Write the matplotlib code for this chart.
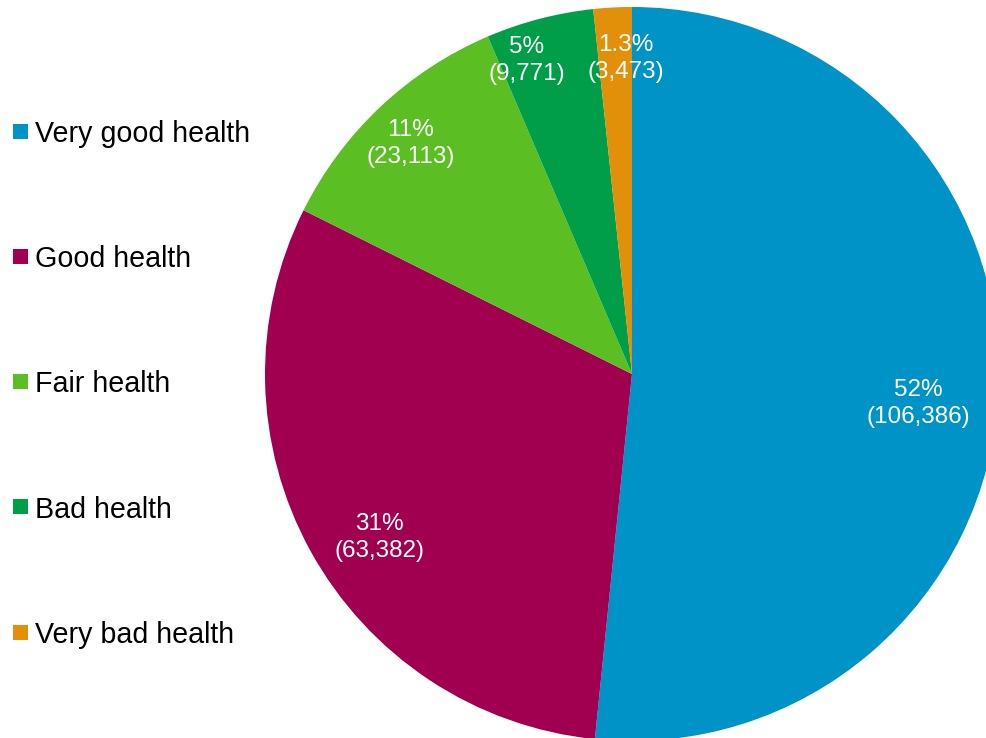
import numpy as np
import matplotlib
matplotlib.use("Agg")
import matplotlib.pyplot as plt
from matplotlib.patches import Rectangle

categories = ["Very good health", "Good health", "Fair health", "Bad health", "Very bad health"]
counts = [106386, 63382, 23113, 9771, 3473]
pct_labels = ["52%", "31%", "11%", "5%", "1.3%"]
colors = ["#0093C8", "#A0004F", "#5BBE22", "#009E48", "#E28F0A"]

W, H = 987, 738
fig = plt.figure(figsize=(W / 100, H / 100), dpi=100)
ax = fig.add_axes([0, 0, 1, 1])

cx, cy, R = 632, H - 374, 367
wedges, _ = ax.pie(counts, colors=colors, startangle=90, counterclock=False,
                   center=(cx, cy), radius=R, frame=True,
                   wedgeprops=dict(linewidth=0))
ax.set_xlim(0, W)
ax.set_ylim(0, H)
ax.set_aspect("equal")
ax.axis("off")

font = ["Liberation Sans", "DejaVu Sans"]
label_r = [0.785, 0.82, 0.87, 0.9, 0.86]
label_da = [-3, 4, 0.5, 4, -2]
for w, pl, n, r, da in zip(wedges, pct_labels, counts, label_r, label_da):
    ang = np.deg2rad((w.theta1 + w.theta2) / 2 + da)
    x = cx + r * R * np.cos(ang)
    y = cy + r * R * np.sin(ang)
    ax.text(x, y, f"{pl}\n({n:,})", ha="center", va="center", color="white",
            fontsize=17.5, family=font, linespacing=1.3)

y0 = H - 131
step = 125.25
for i, (c, lab) in enumerate(zip(colors, categories)):
    y = y0 - i * step
    ax.add_patch(Rectangle((13, y - 7.5), 15, 15, facecolor=c, edgecolor="none"))
    ax.text(35, y - 11, lab, ha="left", va="baseline", fontsize=20.6, family=font, color="black")

fig.savefig("out.png", dpi=100)
